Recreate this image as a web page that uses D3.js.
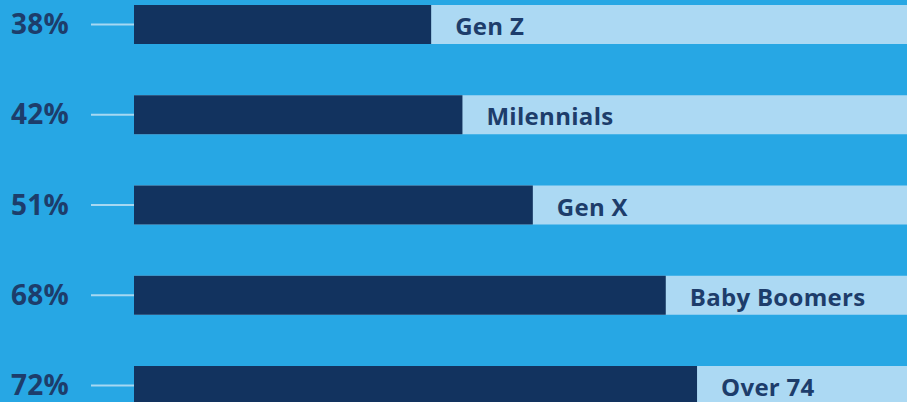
<!DOCTYPE html>
<html>
<head>
<meta charset="utf-8">
<script src="https://cdn.jsdelivr.net/npm/d3@7"></script>
<style>
  html, body { margin: 0; padding: 0; background: #27a7e4; overflow: hidden; }
  svg { display: block; }
</style>
</head>
<body>
<div class="container"></div>
<script>
const WIDTH = 907;
const HEIGHT = 402;

// data
var categories = ['Gen Z', 'Milennials', 'Gen X', 'Baby Boomers', 'Over 74'];
var values = [38, 42, 51, 68, 72];
var valueLabels = ['38%', '42%', '51%', '68%', '72%'];

var data = categories.map(function (c, i) {
    return {name: c, value: values[i], label: valueLabels[i]};
});

const BAR_H = 39;
const STEP = 90.25;

var _xScale = d3.scaleLinear()
    .domain([0, 100])
    .range([134, 916]);

var _yScale = d3.scaleBand()
    .domain(categories)
    .range([5, 5 + 4 * STEP + BAR_H])
    .paddingInner(1 - BAR_H / STEP)
    .paddingOuter(0);

var _svg = d3.select('.container').append('svg')
    .attr('width', WIDTH)
    .attr('height', HEIGHT);

_svg.append('rect')
    .attr('width', WIDTH).attr('height', HEIGHT)
    .attr('fill', '#27a7e4');

// light full-width track
_svg.selectAll('.track')
    .data(data)
    .enter().append('rect')
    .attr('class', 'track')
    .attr('x', _xScale(0))
    .attr('y', function (d) { return _yScale(d.name); })
    .attr('width', _xScale(100) - _xScale(0))
    .attr('height', _yScale.bandwidth())
    .attr('fill', '#acd9f3');

// dark value bar
_svg.selectAll('.bar')
    .data(data)
    .enter().append('rect')
    .attr('class', 'bar')
    .attr('x', _xScale(0))
    .attr('y', function (d) { return _yScale(d.name); })
    .attr('width', function (d) { return _xScale(d.value) - _xScale(0); })
    .attr('height', _yScale.bandwidth())
    .attr('fill', '#12335f');

// little tick lines on the left
var yAxis = d3.axisLeft(_yScale)
    .tickSize(43)
    .tickFormat(function (d, i) { return valueLabels[i]; })
    .tickPadding(18);

var axisG = _svg.append('g')
    .attr('transform', 'translate(' + _xScale(0) + ',0)')
    .call(yAxis);

axisG.select('.domain').remove();
axisG.selectAll('.tick line')
    .attr('stroke', '#a6d8f2')
    .attr('stroke-width', 2);
axisG.selectAll('.tick text')
    .attr('text-anchor', 'start')
    .attr('x', 11 - _xScale(0))
    .attr('dy', '0.34em')
    .attr('fill', '#1d3d6b')
    .style('font-family', '"Open Sans", sans-serif')
    .style('font-weight', 700)
    .style('letter-spacing', '0.2px')
    .style('font-size', '28px');

// category names after the dark bar
_svg.selectAll('.name')
    .data(data)
    .enter().append('text')
    .attr('class', 'name')
    .attr('x', function (d) { return _xScale(d.value) + 24; })
    .attr('y', function (d) { return _yScale(d.name) + _yScale.bandwidth() / 2 + 10.5; })
    .attr('fill', '#1d3d6b')
    .style('font-family', '"Open Sans", sans-serif')
    .style('font-weight', 700)
    .style('letter-spacing', '0.3px')
    .style('font-size', '24px')
    .text(function (d) { return d.name; });
</script>
</body>
</html>
